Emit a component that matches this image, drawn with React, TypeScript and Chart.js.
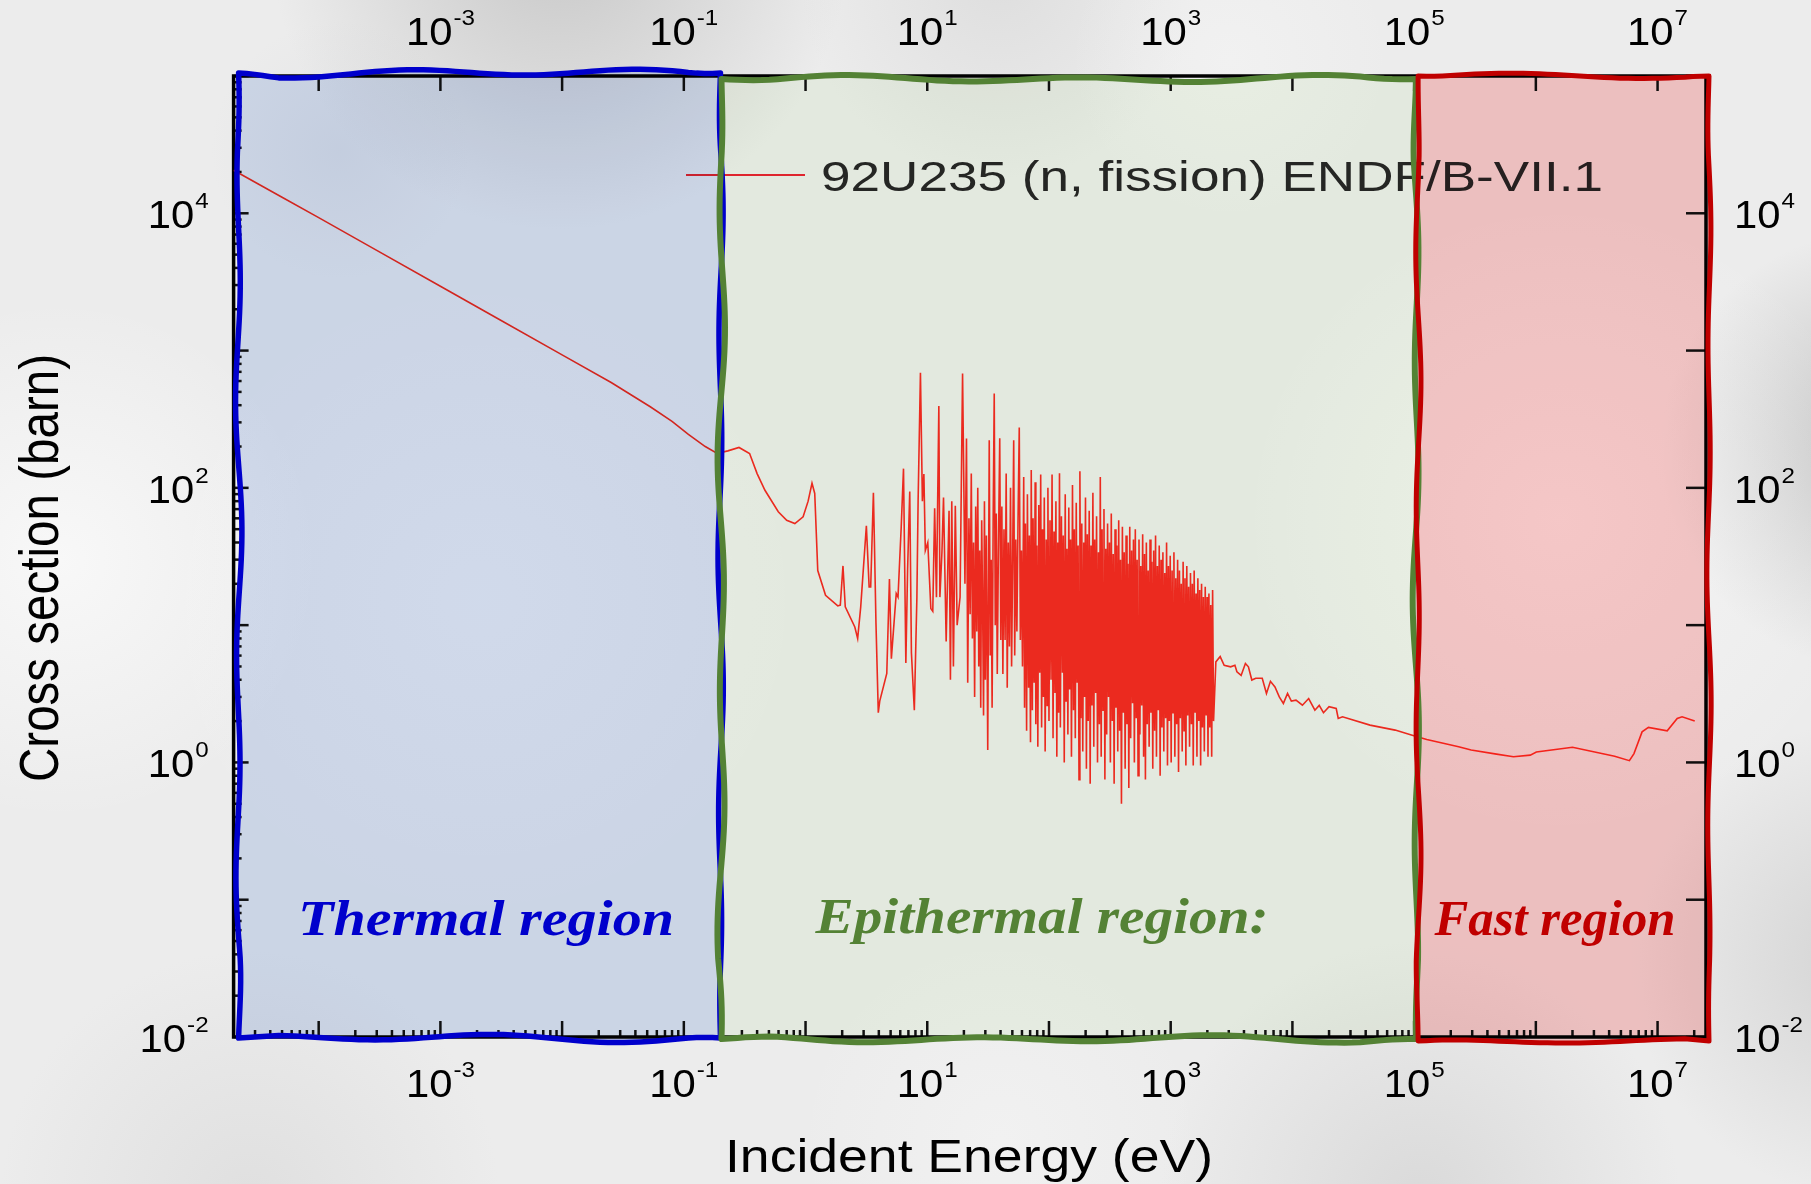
import React, { useEffect, useRef } from 'react';
import { Chart, registerables } from 'chart.js';

Chart.register(...registerables);

const W = 1811;
const H = 1184;

// ---------------- data (E in eV, sigma in barn) ----------------
const thermalBlock: [number, number][] = [
  [2e-5, 20600], [5e-5, 13100], [1e-4, 9300], [3e-4, 5370], [1e-3, 2940], [3e-3, 1700],
  [1e-2, 930], [0.0253, 585], [0.053, 390], [0.08, 305], [0.109, 245], [0.15, 200],
  [0.188, 178], [0.23, 186], [0.284, 197], [0.347, 178], [0.40, 127], [0.464, 96],
  [0.597, 67], [0.7, 58], [0.817, 55], [0.955, 61.5], [1.05, 80], [1.13, 108], [1.19, 91], [1.26, 25],
];

const lowResonanceBlock: [number, number][] = [
  [1.46, 16.5], [1.84, 13.8], [1.93, 14], [2.03, 27], [2.12, 13.6], [2.54, 9.7], [2.68, 8.0],
  [2.84, 13.6], [3.16, 53], [3.33, 19], [3.43, 19], [3.61, 92], [3.68, 40], [3.79, 10.3],
  [3.96, 2.3], [4.07, 2.8], [4.65, 4.45], [4.89, 21.7], [5.07, 5.7], [5.56, 17], [5.75, 16],
  [6.11, 52], [6.38, 138], [6.67, 5.3], [6.89, 25], [7.18, 94], [7.41, 6.3], [7.83, 2.4],
  [8.22, 16], [8.41, 80], [8.79, 689], [9.12, 80], [9.38, 126], [9.64, 35], [10.1, 40],
  [10.7, 13.2], [11.1, 12.6], [11.5, 71], [11.9, 16], [12.45, 394], [12.7, 16], [13.2, 34],
  [13.6, 85], [14.3, 7.6], [15.1, 68], [15.5, 4], [15.9, 80], [16.4, 5], [17.0, 74],
  [17.6, 10], [18.6, 16], [19.5, 681],
];

const midResonanceBlock: [number, number][] = [
  [20.4, 20], [21.0, 229], [21.5, 3.8], [22.0, 60], [22.5, 12], [23.0, 127], [23.5, 8], [24.0, 40],
  [24.5, 3], [25.0, 73], [25.5, 9], [26.0, 100], [26.5, 5], [27.0, 35], [27.5, 2.5], [28.0, 58],
  [28.5, 14], [29.0, 2.2], [29.5, 80], [30.0, 4], [30.6, 45], [31.4, 1.23], [32.3, 222], [32.9, 6],
  [33.5, 30], [34.1, 2.5], [34.8, 60], [35.5, 486], [36.2, 10], [36.9, 65], [37.6, 4.4], [38.4, 35],
  [39.4, 230], [40.2, 7.8], [41.0, 73], [41.8, 4.4], [42.7, 50], [43.6, 7.8], [44.5, 127], [45.4, 3.5],
  [46.3, 40], [47.3, 7], [48.3, 100], [49.3, 5], [50.3, 30], [51.3, 222], [52.3, 6], [53.4, 42],
  [54.5, 9], [55.7, 60], [57, 275], [58.2, 7.8], [59.4, 35], [60.6, 5],
];

const resolvedBlock: [number, number][] = [
  [62, 120], [63, 2.5], [64, 55], [65.5, 1.7], [66.5, 90], [68, 3.5], [69, 45], [70.5, 1.4], [71.5, 135], [73, 2.4],
  [74, 60], [75.5, 3.8], [77, 110], [78, 1.9], [79.5, 38], [81, 1.3], [82.5, 75], [84, 4.5], [85.5, 125], [87, 1.8],
  [88.5, 50], [90, 3], [91.5, 85], [93, 1.2], [95, 42], [96.5, 2.6], [98, 100], [100, 2], [102, 58], [104, 4],
  [106, 125], [108, 1.5], [110, 48], [112, 3.2], [114, 80], [116, 1.1], [118, 40], [120, 2.3], [122, 128], [124, 1.8],
  [126.5, 62], [129, 4.5], [131, 45], [133.5, 1], [136, 90], [138, 2.8], [140.5, 36], [143, 1.6], [145.5, 72], [148, 3.4],
  [150.5, 42], [153, 1.1], [156, 105], [159, 2.4], [161.5, 50], [164.5, 1.5], [167.5, 78], [170.5, 3.8], [173.5, 38], [176.5, 0.75],
  [179.5, 132], [183, 2.1], [186, 55], [189.5, 1.2], [193, 40], [196, 3], [199.5, 85], [203, 0.9], [206.5, 46], [210, 2],
  [214, 68], [218, 0.7], [221.5, 38], [225.5, 2.6], [229.5, 92], [233.5, 1.3], [237.5, 42], [242, 3.2], [246, 62], [250.5, 1],
  [255, 34], [259.5, 1.9], [264, 120], [268.5, 1.1], [273, 50], [278, 2.4], [283, 70], [288, 0.75], [293, 36], [298, 1.6],
  [303, 55], [308.5, 3], [314, 40], [319.5, 1], [325, 65], [331, 2], [337, 33], [343, 0.7], [349, 50], [355, 2.5],
  [361, 38], [367.5, 1.2], [374, 58], [380.5, 1.7], [387, 30], [394, 0.5], [401, 52], [408, 2.3], [415, 34], [422.5, 0.9],
  [430, 45], [437.5, 1.9], [445, 28], [453, 0.65], [461, 52], [469, 1.5], [477.5, 35], [486, 2.7], [494.5, 42], [503, 1],
  [512, 50], [521, 2.1], [530, 30], [539.5, 0.8], [549, 42], [558.5, 1.6], [568, 27], [578, 2.6], [588.5, 46], [599, 1.1],
  [609.5, 33], [620, 0.75], [631, 40], [642, 1.9], [653, 25], [665, 1.3], [676.5, 42], [688, 2.3], [700, 29], [712.5, 0.9],
  [725, 35], [738, 1.7], [751, 45], [764, 1.1], [777.5, 27], [791, 2.4], [805, 38], [819, 0.8], [833.5, 30], [848, 1.8],
  [863, 34], [878, 1.2], [893.5, 24], [909, 2.1], [925, 40], [941, 0.95], [957.5, 27], [974, 2], [991, 32], [1009, 1],
  [1027, 25], [1045, 2.3], [1063, 34], [1082, 1.1], [1101, 22], [1120, 1.9], [1140, 30], [1160, 0.85], [1180, 25], [1200, 2.1],
  [1221, 20], [1243, 1.2], [1265, 29], [1287, 1.7], [1310, 22], [1333, 0.95], [1356, 27], [1380, 2.2], [1404, 19], [1429, 1.3],
  [1454, 24], [1480, 1.9], [1506, 20], [1532, 0.95], [1559, 25], [1587, 2.3], [1615, 17], [1643, 1.1], [1672, 22], [1701, 2],
  [1731, 18], [1762, 0.95], [1793, 20], [1824, 1.8], [1856, 16], [1889, 1.2], [1922, 19], [1956, 2.2], [1990, 16], [2025, 1.1],
  [2061, 17], [2097, 1.8], [2134, 14], [2172, 1.1], [2210, 18], [2250, 2],
];

const unresolvedFastBlock: [number, number][] = [
  [2350, 5.4], [2550, 5.9], [2750, 5.1], [3110, 4.97], [3370, 5.1], [3500, 4.57], [3790, 4.3],
  [4110, 5.26], [4350, 4.97], [4640, 3.98], [5000, 4.1], [5650, 4.1], [6120, 3.18], [6600, 3.9],
  [7190, 3.55], [7800, 3.0], [8430, 2.69], [9120, 3.18], [9800, 2.8], [10700, 2.84], [12080, 2.61],
  [13600, 2.92], [15300, 2.4], [16600, 2.6], [18000, 2.3], [20000, 2.55], [22900, 2.47], [23800, 2.09],
  [25800, 2.15], [43400, 1.87], [69800, 1.72], [96400, 1.58], [127000, 1.47], [232000, 1.3],
  [294000, 1.23], [475000, 1.15], [655000, 1.1], [900000, 1.13], [1010000, 1.19], [2000000, 1.29],
  [4440000, 1.11], [5870000, 1.03], [6400000, 1.16], [7460000, 1.67], [8410000, 1.8], [12000000, 1.7],
  [14500000, 2.09], [15900000, 2.15], [20200000, 2.0],
];

const seriesLabel = '92U235 (n, fission) ENDF/B-VII.1';

// ---------------- axes ----------------
const xMin = 2e-5;
const xMax = 2.5e7;
const yMin = 1e-2;
const yMax = 1e5;
const xMajorExps = [-4, -3, -2, -1, 0, 1, 2, 3, 4, 5, 6, 7];
const xMinorDecades = [-5, -4, -3, -2, -1, 0, 1, 2, 3, 4, 5, 6, 7];
const xLabelExps = [-3, -1, 1, 3, 5, 7];
const yMajorExps = [-2, -1, 0, 1, 2, 3, 4, 5];
const yMinorDecades = [-2, -1, 0, 1, 2, 3, 4];
const yLabelExps = [-2, 0, 2, 4];
const minorMultipliers = [2, 3, 4, 5, 6, 7, 8, 9];

// ---------------- regions ----------------
const regionBounds = [2e-5, 0.2, 1e5, 2.5e7];
const regionNames = ['Thermal region', 'Epithermal region:', 'Fast region'];
const regionTextColors = ['#0000cc', '#548235', '#c00000'];
const regionBorderColors = ['#0000cc', '#548235', '#c00000'];
const regionMultiplyColors = ['rgb(220,230,248)', 'rgb(246,252,241)', 'rgb(255,207,207)'];

const SANS = '"Liberation Sans", Arial, Helvetica, sans-serif';
const SERIF = '"Liberation Serif", "Times New Roman", serif';

const clouds: [number, number, number, string, string][] = [
  [560, -60, 290, 'rgba(170,170,170,0.55)', 'rgba(170,170,170,0)'],
  [1000, -20, 200, 'rgba(190,190,190,0.30)', 'rgba(190,190,190,0)'],
  [1880, 450, 220, 'rgba(160,160,160,0.55)', 'rgba(160,160,160,0)'],
  [1870, 960, 240, 'rgba(180,180,180,0.45)', 'rgba(180,180,180,0)'],
  [1420, 1200, 260, 'rgba(190,190,190,0.40)', 'rgba(190,190,190,0)'],
  [250, 1200, 250, 'rgba(200,200,200,0.35)', 'rgba(200,200,200,0)'],
  [60, 560, 260, 'rgba(252,252,252,0.75)', 'rgba(252,252,252,0)'],
  [1000, 1140, 200, 'rgba(246,246,246,0.5)', 'rgba(246,246,246,0)'],
  [1230, 60, 160, 'rgba(246,246,246,0.5)', 'rgba(246,246,246,0)'],
  [1560, 520, 320, 'rgba(252,252,252,0.55)', 'rgba(252,252,252,0)'],
  [480, 600, 330, 'rgba(252,252,252,0.35)', 'rgba(252,252,252,0)'],
  [340, 150, 130, 'rgba(170,175,185,0.12)', 'rgba(170,175,185,0)'],
];

function stretchText(ctx: CanvasRenderingContext2D, text: string, font: string, x: number, y: number, targetW: number, align: string) {
  ctx.save();
  ctx.font = font;
  ctx.textAlign = 'left';
  ctx.textBaseline = 'alphabetic';
  const w = ctx.measureText(text).width;
  const s = targetW / w;
  const left = align === 'center' ? x - targetW / 2 : align === 'right' ? x - targetW : x;
  ctx.translate(left, y);
  ctx.scale(s, 1);
  ctx.fillText(text, 0, 0);
  ctx.restore();
}

const TICK_SX = 1.1;
function drawPow(ctx: CanvasRenderingContext2D, exp: number, x: number, yBase: number, align: string) {
  const base = '10';
  const sup = String(exp);
  const f1 = `38px ${SANS}`;
  const f2 = `22px ${SANS}`;
  ctx.save();
  ctx.fillStyle = '#000';
  ctx.textAlign = 'left';
  ctx.textBaseline = 'alphabetic';
  ctx.font = f1;
  const w1 = ctx.measureText(base).width * TICK_SX;
  ctx.font = f2;
  const w2 = ctx.measureText(sup).width * TICK_SX;
  const total = w1 + 1 + w2;
  const left = align === 'center' ? x - total / 2 : align === 'right' ? x - total : x;
  ctx.save();
  ctx.translate(left, yBase);
  ctx.scale(TICK_SX, 1);
  ctx.font = f1;
  ctx.fillText(base, 0, 0);
  ctx.restore();
  ctx.save();
  ctx.translate(left + w1 + 1, yBase - 20);
  ctx.scale(TICK_SX, 1);
  ctx.font = f2;
  ctx.fillText(sup, 0, 0);
  ctx.restore();
  ctx.restore();
}

function wavyPath(ctx: CanvasRenderingContext2D, x0: number, y0: number, x1: number, y1: number, amps: number[], phases: number[]) {
  const corners = [[x0, y0], [x1, y0], [x1, y1], [x0, y1], [x0, y0]];
  ctx.beginPath();
  for (let e = 0; e < 4; e++) {
    const [ax, ay] = corners[e];
    const [bx, by] = corners[e + 1];
    const len = Math.hypot(bx - ax, by - ay);
    const n = Math.max(10, Math.round(len / 8));
    const nx = -(by - ay) / len;
    const ny = (bx - ax) / len;
    for (let i = 0; i <= n; i++) {
      const t = i / n;
      const d = t * len;
      const env = Math.min(1, t * 12, (1 - t) * 12);
      const off = amps[e] * env * (Math.sin(d / 38 + phases[e]) * 0.8 + Math.sin(d / 71 + phases[e] * 1.7) * 0.35);
      const px = ax + (bx - ax) * t + nx * off;
      const py = ay + (by - ay) * t + ny * off;
      if (e === 0 && i === 0) ctx.moveTo(px, py);
      else ctx.lineTo(px, py);
    }
  }
  ctx.closePath();
}

const boxInsets = [
  { l: 5, t: -3, r: 0, b: 1, amps: [4.5, 2.5, 4, 3], phases: [0.3, 1.2, 2.0, 0.7], lw: 5.5 },
  { l: 1, t: 3, r: 2, b: 2, amps: [3.5, 3, 3.5, 3.5], phases: [1.5, 0.4, 2.6, 1.9], lw: 6 },
  { l: 4, t: 0, r: 3, b: 4, amps: [2.5, 2, 2, 2.5], phases: [2.2, 0.9, 1.1, 3.0], lw: 5 },
];

const regionLabelBoxes = [
  { cx: 486, w: 376, y: 935 },
  { cx: 1042, w: 453, y: 933 },
  { cx: 1555, w: 241, y: 935 },
];

const decoPlugin = {
  id: 'deco',
  beforeDraw(chart: any) {
    const ctx: CanvasRenderingContext2D = chart.ctx;
    ctx.save();
    ctx.fillStyle = '#ececec';
    ctx.fillRect(0, 0, W, H);
    for (const [x, y, r, c0, c1] of clouds) {
      const g = ctx.createRadialGradient(x, y, 0, x, y, r);
      g.addColorStop(0, c0);
      g.addColorStop(1, c1);
      ctx.fillStyle = g;
      ctx.fillRect(0, 0, W, H);
    }
    ctx.restore();
  },
  beforeDatasetsDraw(chart: any) {
    const ctx: CanvasRenderingContext2D = chart.ctx;
    const ca = chart.chartArea;
    const xs = chart.scales.x;
    const ys = chart.scales.y;
    ctx.save();
    ctx.strokeStyle = '#111';
    ctx.lineWidth = 2.5;
    const seg = (a: number, b: number, c: number, d: number) => {
      ctx.beginPath();
      ctx.moveTo(a, b);
      ctx.lineTo(c, d);
      ctx.stroke();
    };
    for (const e of xMajorExps) {
      const px = xs.getPixelForValue(Math.pow(10, e));
      seg(px, ca.bottom, px, ca.bottom - 16);
      seg(px, ca.top, px, ca.top + 15);
    }
    for (const d of xMinorDecades) {
      for (const m of minorMultipliers) {
        const v = m * Math.pow(10, d);
        if (v <= xMin || v >= xMax) continue;
        const px = xs.getPixelForValue(v);
        seg(px, ca.bottom, px, ca.bottom - 7);
      }
    }
    for (const e of yMajorExps) {
      const py = ys.getPixelForValue(Math.pow(10, e));
      seg(ca.left, py, ca.left + 15, py);
      seg(ca.right, py, ca.right - 20, py);
    }
    for (const d of yMinorDecades) {
      for (const m of minorMultipliers) {
        const v = m * Math.pow(10, d);
        if (v <= yMin || v >= yMax) continue;
        const py = ys.getPixelForValue(v);
        seg(ca.left, py, ca.left + 8, py);
      }
    }
    ctx.lineWidth = 3.5;
    ctx.strokeStyle = '#000';
    ctx.strokeRect(ca.left, ca.top, ca.right - ca.left, ca.bottom - ca.top);
    ctx.restore();
  },
  afterDatasetsDraw(chart: any) {
    const ctx: CanvasRenderingContext2D = chart.ctx;
    const ca = chart.chartArea;
    const xs = chart.scales.x;
    // legend
    ctx.save();
    ctx.strokeStyle = '#e82530';
    ctx.lineWidth = 2;
    ctx.beginPath();
    ctx.moveTo(686, 175);
    ctx.lineTo(805, 175);
    ctx.stroke();
    ctx.fillStyle = '#262626';
    stretchText(ctx, seriesLabel, `43px ${SANS}`, 821, 191, 782, 'left');
    ctx.restore();

    // region boxes
    const rects = regionNames.map((_, i) => {
      const bi = boxInsets[i];
      const x0 = xs.getPixelForValue(regionBounds[i]) + bi.l;
      const x1 = xs.getPixelForValue(regionBounds[i + 1]) + bi.r;
      return { x0, x1, y0: ca.top + bi.t, y1: ca.bottom + bi.b, bi };
    });
    ctx.save();
    ctx.globalCompositeOperation = 'multiply';
    rects.forEach((r, i) => {
      wavyPath(ctx, r.x0, r.y0, r.x1, r.y1, r.bi.amps, r.bi.phases);
      ctx.fillStyle = regionMultiplyColors[i];
      ctx.fill();
    });
    ctx.restore();
    ctx.save();
    ctx.lineJoin = 'round';
    ctx.lineCap = 'round';
    rects.forEach((r, i) => {
      wavyPath(ctx, r.x0, r.y0, r.x1, r.y1, r.bi.amps, r.bi.phases);
      ctx.strokeStyle = regionBorderColors[i];
      ctx.lineWidth = r.bi.lw;
      ctx.stroke();
    });
    ctx.restore();

    // region labels
    regionNames.forEach((name, i) => {
      const lb = regionLabelBoxes[i];
      ctx.save();
      ctx.fillStyle = regionTextColors[i];
      stretchText(ctx, name, `bold italic 50px ${SERIF}`, lb.cx, lb.y, lb.w, 'center');
      ctx.restore();
    });
  },
  afterDraw(chart: any) {
    const ctx: CanvasRenderingContext2D = chart.ctx;
    const ca = chart.chartArea;
    const xs = chart.scales.x;
    const ys = chart.scales.y;
    for (const e of xLabelExps) {
      const px = xs.getPixelForValue(Math.pow(10, e));
      drawPow(ctx, e, px, ca.bottom + 60, 'center');
      drawPow(ctx, e, px, ca.top - 31, 'center');
    }
    for (const e of yLabelExps) {
      const py = ys.getPixelForValue(Math.pow(10, e));
      drawPow(ctx, e, ca.left - 25, py + 15, 'right');
      drawPow(ctx, e, ca.right + 28, py + 15, 'left');
    }
    // axis titles
    ctx.save();
    ctx.fillStyle = '#000';
    stretchText(ctx, 'Incident Energy (eV)', `47px ${SANS}`, 969, 1172, 488, 'center');
    ctx.restore();
    ctx.save();
    ctx.fillStyle = '#000';
    ctx.font = `47px ${SANS}`;
    const t = 'Cross section (barn)';
    const tw = ctx.measureText(t).width;
    ctx.translate(42, 568);
    ctx.rotate(-Math.PI / 2);
    ctx.scale(428 / tw, 1.2);
    ctx.textAlign = 'center';
    ctx.textBaseline = 'middle';
    ctx.fillText(t, 0, 0);
    ctx.restore();
  },
};

export default function App() {
  const canvasRef = useRef<HTMLCanvasElement | null>(null);
  useEffect(() => {
    document.body.style.margin = '0';
    const canvas = canvasRef.current;
    if (!canvas) return;
    const points = [
      ...thermalBlock,
      ...lowResonanceBlock,
      ...midResonanceBlock,
      ...resolvedBlock,
      ...unresolvedFastBlock,
    ].map(([x, y]) => ({ x, y }));
    const chart = new Chart(canvas, {
      type: 'scatter',
      data: {
        datasets: [
          {
            label: seriesLabel,
            data: points,
            showLine: true,
            borderColor: '#f42a20',
            backgroundColor: '#f42a20',
            borderWidth: 1.6,
            pointRadius: 0,
            pointHoverRadius: 0,
            tension: 0,
            fill: false,
          },
        ],
      },
      options: {
        responsive: false,
        maintainAspectRatio: false,
        animation: false,
        devicePixelRatio: 1,
        events: [],
        layout: { padding: { left: 233.6, top: 76, right: 105, bottom: 147 } },
        scales: {
          x: { type: 'logarithmic', min: xMin, max: xMax, display: false },
          y: { type: 'logarithmic', min: yMin, max: yMax, display: false },
        },
        plugins: {
          legend: { display: false },
          tooltip: { enabled: false },
        },
      },
      plugins: [decoPlugin],
    } as any);
    return () => chart.destroy();
  }, []);
  return (
    <div style={{ position: 'fixed', left: 0, top: 0, width: W, height: H }}>
      <canvas ref={canvasRef} width={W} height={H} style={{ display: 'block', width: W, height: H }} />
    </div>
  );
}
